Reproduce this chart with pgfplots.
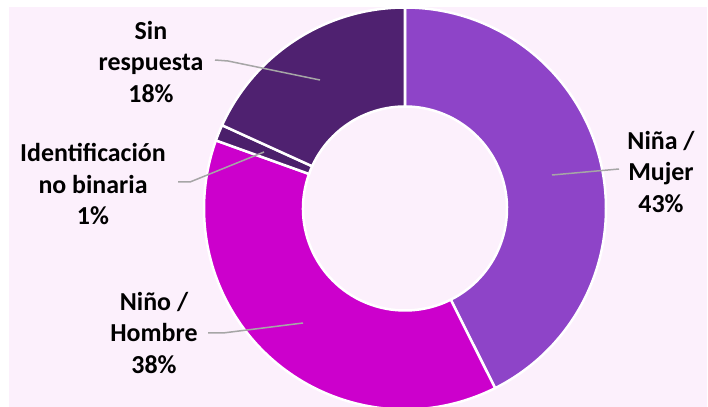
\documentclass[border=0pt]{standalone}
\usepackage{pgfplots}
\usepackage{pgfplotstable}
\pgfplotsset{compat=1.18}
\usepackage{fontspec}
\setmainfont{Carlito}
\definecolor{bgl}{HTML}{FCF0FC}
\definecolor{cnina}{HTML}{8E44C8}
\definecolor{cnino}{HTML}{CC00CC}
\definecolor{cnb}{HTML}{4B1F6B}
\definecolor{csin}{HTML}{4F2170}
\definecolor{lead}{HTML}{A6A6A6}

% share of each group (percent), clockwise from 12 o'clock
\pgfplotstableread{
value
42.6
37.9
1.3
18.2
}\donut

\newcommand\slice[3]{%
  \filldraw[fill=#1, draw=white, line width=2.5bp]
    ([shift={(#2:201bp)}]axis cs:405,198.5)
    arc[start angle=#2, end angle=#3, radius=201bp]
    -- ([shift={(#3:102bp)}]axis cs:405,198.5)
    arc[start angle=#3, end angle=#2, radius=102bp] -- cycle;}

\begin{document}
\begin{tikzpicture}
\pgfplotstablegetelem{0}{value}\of\donut \pgfmathsetmacro\vA{\pgfplotsretval}
\pgfplotstablegetelem{1}{value}\of\donut \pgfmathsetmacro\vB{\pgfplotsretval}
\pgfplotstablegetelem{2}{value}\of\donut \pgfmathsetmacro\vC{\pgfplotsretval}
\pgfplotstablegetelem{3}{value}\of\donut \pgfmathsetmacro\vD{\pgfplotsretval}
\pgfmathsetmacro\T{\vA+\vB+\vC+\vD}
\pgfmathsetmacro\aO{90}
\pgfmathsetmacro\aA{90-\vA/\T*360}
\pgfmathsetmacro\aB{\aA-\vB/\T*360}
\pgfmathsetmacro\aC{\aB-\vC/\T*360}
\pgfmathsetmacro\aD{\aC-\vD/\T*360}
\begin{axis}[x=1bp, y=1bp, xmin=0, xmax=708, ymin=0, ymax=407,
  at={(0,0)}, anchor=origin, hide axis, clip=true]
\fill[white] (axis cs:0,0) rectangle (axis cs:708,407);
\fill[bgl] (axis cs:9,0) rectangle (axis cs:707,400);
\slice{cnina}{\aO}{\aA}
\slice{cnino}{\aA}{\aB}
\slice{cnb}{\aB}{\aC}
\slice{csin}{\aC}{\aD}
\draw[lead, line width=1.5bp] (axis cs:215,347) -- (axis cs:228,346) -- (axis cs:320,327);
\draw[lead, line width=1.5bp] (axis cs:178,225) -- (axis cs:190,225) -- (axis cs:264,255);
\draw[lead, line width=1.5bp] (axis cs:208,74) -- (axis cs:223,74) -- (axis cs:303,84);
\draw[lead, line width=1.5bp] (axis cs:619,238) -- (axis cs:552,232);
\tikzset{lab/.style={align=center, inner sep=0pt, font=\fontsize{26}{32}\selectfont\bfseries}}
\node[lab] at (axis cs:151,345) {Sin\\respuesta\\18\%};
\node[lab] at (axis cs:93,223) {Identificación\\no binaria\\1\%};
\node[lab] at (axis cs:154,74) {Niño /\\Hombre\\38\%};
\node[lab] at (axis cs:661,235) {Niña /\\Mujer\\43\%};
\end{axis}
\pgfresetboundingbox
\useasboundingbox (0,0) rectangle (708bp,407bp);
\end{tikzpicture}
\end{document}
